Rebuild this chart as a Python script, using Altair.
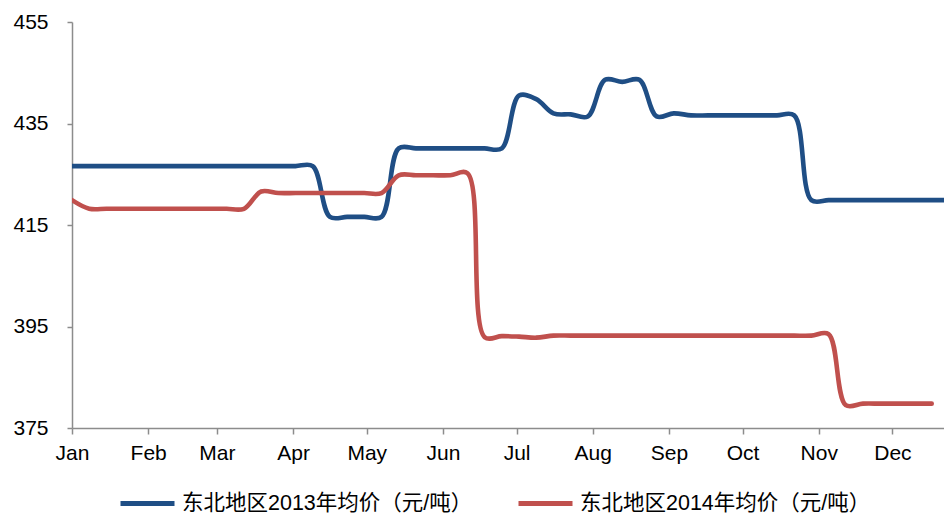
import altair as alt
import pandas as pd

# weekly observation dates (mapped onto one calendar year)
week_dates = [
    "2013-01-01", "2013-01-08", "2013-01-15", "2013-01-22", "2013-01-29",
    "2013-02-05", "2013-02-12", "2013-02-19", "2013-02-26",
    "2013-03-05", "2013-03-12", "2013-03-19", "2013-03-26",
    "2013-04-02", "2013-04-09", "2013-04-16", "2013-04-23", "2013-04-30",
    "2013-05-07", "2013-05-14", "2013-05-21", "2013-05-28",
    "2013-06-04", "2013-06-11", "2013-06-18", "2013-06-25",
    "2013-07-02", "2013-07-09", "2013-07-16", "2013-07-23", "2013-07-30",
    "2013-08-06", "2013-08-13", "2013-08-20", "2013-08-27",
    "2013-09-03", "2013-09-10", "2013-09-17", "2013-09-24",
    "2013-10-01", "2013-10-08", "2013-10-15", "2013-10-22", "2013-10-29",
    "2013-11-05", "2013-11-12", "2013-11-19", "2013-11-26",
    "2013-12-03", "2013-12-10", "2013-12-17", "2013-12-24",
]

series_names = ["东北地区2013年均价（元/吨）", "东北地区2014年均价（元/吨）"]
series_colors = ["#1F4E85", "#C0504D"]

price_2013 = [
    426.6, 426.6, 426.6, 426.6, 426.6, 426.6, 426.6, 426.6, 426.6, 426.6,
    426.6, 426.6, 426.6, 426.6, 426.6,
    416.6, 416.6, 416.6, 416.6,
    430.1, 430.1, 430.1, 430.1, 430.1, 430.1, 430.1,
    440.5, 439.8, 437.0, 436.8, 436.4,
    443.6, 443.2, 443.6,
    436.4, 437.0,
    436.6, 436.6, 436.6, 436.6, 436.6, 436.6, 436.6,
    419.9, 419.9, 419.9, 419.9, 419.9, 419.9, 419.9, 419.9, 419.9,
]

price_2014 = [
    419.9,
    418.2, 418.2, 418.2, 418.2, 418.2, 418.2, 418.2, 418.2, 418.2, 418.2,
    421.6,
    421.3, 421.3, 421.3, 421.3, 421.3, 421.3, 421.3,
    424.8, 424.8, 424.8, 424.8,
    425.2,
    392.9, 393.1, 393.0, 392.8,
    393.2, 393.2, 393.2, 393.2, 393.2, 393.2, 393.2, 393.2,
    393.2, 393.2, 393.2, 393.2, 393.2, 393.2, 393.2, 393.2,
    393.5,
    379.5,
    379.8, 379.8, 379.8, 379.8, 379.8,
]

y_ticks = [375, 395, 415, 435, 455]
month_starts = [(2013, m) for m in range(1, 13)]

rows = []
for d, v in zip(week_dates, price_2013):
    rows.append({"date": d + "T00:00:00", "price": v, "series": series_names[0]})
for d, v in zip(week_dates, price_2014):
    rows.append({"date": d + "T00:00:00", "price": v, "series": series_names[1]})
df = pd.DataFrame(rows)

font = "Liberation Sans, Arial, Noto Sans CJK SC"

chart = alt.Chart(df).mark_line(
    interpolate="catmull-rom", strokeWidth=4.6, strokeCap="round", clip=True
).encode(
    x=alt.X(
        "date:T",
        title=None,
        scale=alt.Scale(domain=[alt.DateTime(year=2013, month=1, date=1),
                                alt.DateTime(year=2013, month=12, date=22)]),
        axis=alt.Axis(
            values=[alt.DateTime(year=y, month=m, date=1) for y, m in month_starts],
            format="%b", labelFontSize=21, labelFont=font, labelColor="#000000",
            tickSize=6, labelPadding=8, domainColor="#8C8C8C", tickColor="#8C8C8C",
            domainWidth=1.5, tickWidth=1.5, grid=False, labelOverlap=False,
            labelAlign="center",
        ),
    ),
    y=alt.Y(
        "price:Q",
        title=None,
        scale=alt.Scale(domain=[375, 455], nice=False, zero=False),
        axis=alt.Axis(
            values=y_ticks, labelFontSize=21, labelFont=font, labelColor="#000000",
            tickSize=5, labelPadding=19, domainColor="#8C8C8C", tickColor="#8C8C8C",
            domainWidth=1.5, tickWidth=1.5, grid=False,
        ),
    ),
    color=alt.Color(
        "series:N",
        scale=alt.Scale(domain=series_names, range=series_colors),
        legend=alt.Legend(
            title=None, orient="none", legendX=46, legendY=452,
            direction="horizontal", symbolType="stroke", symbolSize=2916,
            symbolStrokeWidth=5, labelFontSize=21.5, labelFont=font,
            labelColor="#000000", labelOffset=5, columnPadding=35,
            labelLimit=400,
        ),
    ),
).properties(
    width=872,
    height=406,
    autosize=alt.AutoSizeParams(type="none"),
    padding={"left": 64, "top": 14, "right": 0, "bottom": 85},
).configure_view(stroke=None)

chart.save("out.html", embed_options={"renderer": "svg", "actions": False})
